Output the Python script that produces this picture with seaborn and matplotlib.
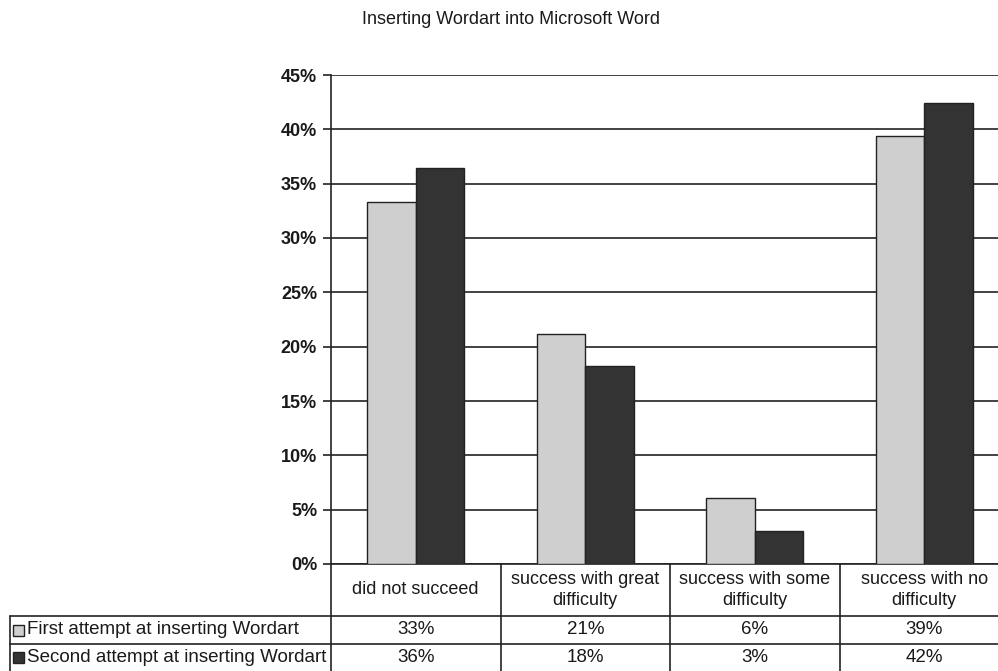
import numpy as np
import pandas as pd
import matplotlib
matplotlib.use("Agg")
import matplotlib.pyplot as plt
import matplotlib.transforms as mtransforms
from matplotlib.patches import Rectangle
import seaborn as sns

# data
categories = ['did not succeed', 'success with great\ndifficulty',
              'success with some\ndifficulty', 'success with no\ndifficulty']
series = ['First attempt at inserting Wordart', 'Second attempt at inserting Wordart']
first_attempt = [33.3, 21.2, 6.1, 39.4]
second_attempt = [36.4, 18.2, 3.0, 42.4]
y_ticks = [0, 5, 10, 15, 20, 25, 30, 35, 40, 45]

colors = ['#cfcfcf', '#333333']

sns.set_theme(style='white')
plt.rcParams['font.family'] = ['Liberation Sans', 'DejaVu Sans']

df = pd.DataFrame({
    'category': categories * 2,
    'series': [series[0]] * 4 + [series[1]] * 4,
    'value': first_attempt + second_attempt,
})

W, H = 998, 671
fig = plt.figure(figsize=(W / 100, H / 100), dpi=100)
ax_left, ax_right, ax_top, ax_bot = 331, 1009, 75, 564
ax = fig.add_axes([ax_left / W, 1 - ax_bot / H, (ax_right - ax_left) / W, (ax_bot - ax_top) / H])

sns.barplot(data=df, x='category', y='value', hue='series', palette=colors,
            width=0.57, gap=0, edgecolor='#222222', linewidth=1.0,
            legend=False, ax=ax, zorder=3)

txt = '#1a1a1a'
ax.set_ylim(0, 45)
ax.set_xlim(-0.5, len(categories) - 0.5)
ax.set_yticks(y_ticks)
ax.set_yticklabels([f'{t}%' for t in y_ticks], fontsize=13, fontweight='bold', color=txt)
ax.set_xticks([])
ax.set_xlabel('')
ax.set_ylabel('')
ax.yaxis.grid(True, color='#222222', linewidth=1.2, zorder=0)
ax.tick_params(axis='y', direction='out', length=6, width=1.2, color='#222222', pad=4, left=True)
for side in ['top', 'right']:
    ax.spines[side].set_visible(False)
ax.spines['left'].set_color('#222222')
ax.spines['left'].set_linewidth(1.2)
ax.spines['bottom'].set_color('#222222')
ax.spines['bottom'].set_linewidth(1.2)

fig.text(511 / W, 1 - 19 / H, 'Inserting Wordart into Microsoft Word',
         ha='center', va='center', fontsize=13, color=txt)

# data table under the chart: x in category units, y in axes fraction
tr = mtransforms.blended_transform_factory(ax.transData, ax.transAxes)
px = ax.get_position().height * H
row_edges = [0, -52 / px, -80 / px, -107 / px]
x_label_left = -0.5 - (ax_left - 10) / ((ax_right - ax_left) / len(categories))
lc = '#222222'
lw = 1.2

def hline(x0, x1, y):
    ax.plot([x0, x1], [y, y], transform=tr, color=lc, lw=lw, clip_on=False)

def vline(x, y0, y1):
    ax.plot([x, x], [y0, y1], transform=tr, color=lc, lw=lw, clip_on=False)

n = len(categories)
for i in range(n + 1):
    vline(i - 0.5, 0, row_edges[-1])
vline(x_label_left, row_edges[1], row_edges[-1])
hline(x_label_left, n - 0.5, row_edges[1])
hline(x_label_left, n - 0.5, row_edges[2])

for i, cat in enumerate(categories):
    ax.text(i, (row_edges[0] + row_edges[1]) / 2, cat, transform=tr, ha='center',
            va='center', fontsize=13, color=txt, linespacing=1.35)
    for r, vals in enumerate([first_attempt, second_attempt]):
        ax.text(i, (row_edges[r + 1] + row_edges[r + 2]) / 2, f'{round(vals[i]):.0f}%',
                transform=tr, ha='center', va='center', fontsize=13.5, color=txt)

cat_px = (ax_right - ax_left) / n
for r, name in enumerate(series):
    yc = (row_edges[r + 1] + row_edges[r + 2]) / 2
    sq = 11 / cat_px
    sq_h = 11 / px
    ax.add_patch(Rectangle((x_label_left + 3 / cat_px, yc - sq_h / 2), sq, sq_h,
                           transform=tr, facecolor=colors[r], edgecolor=lc, lw=1,
                           clip_on=False))
    ax.text(x_label_left + 17 / cat_px, yc, name, transform=tr, ha='left', va='center',
            fontsize=13.5, color=txt)

fig.savefig('out.png', dpi=100, facecolor='white')
